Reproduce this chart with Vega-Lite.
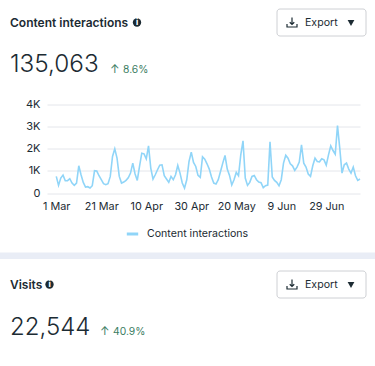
{"$schema":"https://vega.github.io/schema/vega-lite/v6.json","width":313,"height":88.5,"autosize":{"type":"none"},"padding":{"left":47,"top":104.5,"right":15,"bottom":173},"background":"#ffffff","config":{"view":{"stroke":null},"text":{"font":"Inter"}},
"data":{"values":[
{"date":"2023-03-01","value":750},{"date":"2023-03-02","value":345},{"date":"2023-03-03","value":675},{"date":"2023-03-04","value":810},{"date":"2023-03-05","value":555},{"date":"2023-03-06","value":555},{"date":"2023-03-07","value":645},{"date":"2023-03-08","value":450},{"date":"2023-03-09","value":345},{"date":"2023-03-10","value":450},{"date":"2023-03-11","value":1230},{"date":"2023-03-12","value":825},{"date":"2023-03-13","value":480},{"date":"2023-03-14","value":270},{"date":"2023-03-15","value":285},{"date":"2023-03-16","value":225},{"date":"2023-03-17","value":330},{"date":"2023-03-18","value":1005},{"date":"2023-03-19","value":990},{"date":"2023-03-20","value":780},{"date":"2023-03-21","value":600},{"date":"2023-03-22","value":420},{"date":"2023-03-23","value":375},{"date":"2023-03-24","value":420},{"date":"2023-03-25","value":750},{"date":"2023-03-26","value":1650},{"date":"2023-03-27","value":1995},{"date":"2023-03-28","value":1575},{"date":"2023-03-29","value":750},{"date":"2023-03-30","value":450},{"date":"2023-03-31","value":495},
{"date":"2023-04-01","value":570},{"date":"2023-04-02","value":690},{"date":"2023-04-03","value":900},{"date":"2023-04-04","value":1350},{"date":"2023-04-05","value":870},{"date":"2023-04-06","value":570},{"date":"2023-04-07","value":1200},{"date":"2023-04-08","value":1800},{"date":"2023-04-09","value":1770},{"date":"2023-04-10","value":1545},{"date":"2023-04-11","value":2130},{"date":"2023-04-12","value":1125},{"date":"2023-04-13","value":630},{"date":"2023-04-14","value":825},{"date":"2023-04-15","value":1050},{"date":"2023-04-16","value":1260},{"date":"2023-04-17","value":1275},{"date":"2023-04-18","value":780},{"date":"2023-04-19","value":630},{"date":"2023-04-20","value":480},{"date":"2023-04-21","value":750},{"date":"2023-04-22","value":600},{"date":"2023-04-23","value":825},{"date":"2023-04-24","value":1245},{"date":"2023-04-25","value":900},{"date":"2023-04-26","value":450},{"date":"2023-04-27","value":225},{"date":"2023-04-28","value":600},{"date":"2023-04-29","value":1425},{"date":"2023-04-30","value":1845},
{"date":"2023-05-01","value":1380},{"date":"2023-05-02","value":1200},{"date":"2023-05-03","value":795},{"date":"2023-05-04","value":705},{"date":"2023-05-05","value":1635},{"date":"2023-05-06","value":1530},{"date":"2023-05-07","value":1320},{"date":"2023-05-08","value":1080},{"date":"2023-05-09","value":720},{"date":"2023-05-10","value":450},{"date":"2023-05-11","value":405},{"date":"2023-05-12","value":600},{"date":"2023-05-13","value":975},{"date":"2023-05-14","value":1350},{"date":"2023-05-15","value":1695},{"date":"2023-05-16","value":1080},{"date":"2023-05-17","value":795},{"date":"2023-05-18","value":360},{"date":"2023-05-19","value":600},{"date":"2023-05-20","value":930},{"date":"2023-05-21","value":780},{"date":"2023-05-22","value":1725},{"date":"2023-05-23","value":2355},{"date":"2023-05-24","value":675},{"date":"2023-05-25","value":345},{"date":"2023-05-26","value":480},{"date":"2023-05-27","value":750},{"date":"2023-05-28","value":795},{"date":"2023-05-29","value":600},{"date":"2023-05-30","value":495},{"date":"2023-05-31","value":465},
{"date":"2023-06-01","value":240},{"date":"2023-06-02","value":330},{"date":"2023-06-03","value":360},{"date":"2023-06-04","value":2310},{"date":"2023-06-05","value":720},{"date":"2023-06-06","value":570},{"date":"2023-06-07","value":480},{"date":"2023-06-08","value":330},{"date":"2023-06-09","value":600},{"date":"2023-06-10","value":1350},{"date":"2023-06-11","value":1710},{"date":"2023-06-12","value":1575},{"date":"2023-06-13","value":1320},{"date":"2023-06-14","value":1230},{"date":"2023-06-15","value":1020},{"date":"2023-06-16","value":1170},{"date":"2023-06-17","value":1395},{"date":"2023-06-18","value":2175},{"date":"2023-06-19","value":1350},{"date":"2023-06-20","value":1170},{"date":"2023-06-21","value":855},{"date":"2023-06-22","value":750},{"date":"2023-06-23","value":1230},{"date":"2023-06-24","value":1575},{"date":"2023-06-25","value":1425},{"date":"2023-06-26","value":1410},{"date":"2023-06-27","value":1545},{"date":"2023-06-28","value":1500},{"date":"2023-06-29","value":1260},{"date":"2023-06-30","value":1725},
{"date":"2023-07-01","value":2130},{"date":"2023-07-02","value":1920},{"date":"2023-07-03","value":1755},{"date":"2023-07-04","value":3045},{"date":"2023-07-05","value":2025},{"date":"2023-07-06","value":900},{"date":"2023-07-07","value":1275},{"date":"2023-07-08","value":1350},{"date":"2023-07-09","value":1080},{"date":"2023-07-10","value":900},{"date":"2023-07-11","value":1170},{"date":"2023-07-12","value":780},{"date":"2023-07-13","value":570},{"date":"2023-07-14","value":630}
]},
"layer":[
{"mark":{"type":"line","strokeWidth":1.6,"interpolate":"linear"},"encoding":{
"x":{"field":"date","type":"temporal","title":null,"scale":{"type":"utc","domain":["2023-02-24T21:00:00Z","2023-07-14T00:00:00Z"],"nice":false},"axis":{"values":["2023-03-01","2023-03-21","2023-04-10","2023-04-30","2023-05-20","2023-06-09","2023-06-29"],"labelExpr":"utcFormat(datum.value,'%-d %b')","domain":false,"ticks":false,"grid":false,"labelFont":"Inter","labelFontSize":10.8,"labelColor":"#1c2b33","labelPadding":7,"labelFlush":false}},
"y":{"field":"value","type":"quantitative","title":null,"scale":{"domain":[0,4000],"nice":false},"axis":{"values":[0,1000,2000,3000,4000],"labelExpr":"datum.value==0?'0':(datum.value/1000)+'K'","domain":false,"ticks":false,"grid":true,"gridColor":"#e4e6eb","gridWidth":1,"labelFont":"Inter","labelFontSize":11,"labelColor":"#1c2b33","labelPadding":7}},
"color":{"datum":"Content interactions","scale":{"range":["#90d5f8"]},"legend":{"title":null,"orient":"none","legendX":78,"legendY":122,"symbolType":"stroke","symbolStrokeWidth":3,"symbolSize":130,"labelFont":"Inter","labelFontSize":10.6,"labelColor":"#1c2b33","labelOffset":7}}}},
{"data":{"values":[{}]},"mark":{"type":"rect","fill":"#e9edf6"},"encoding":{"x":{"value":-47},"x2":{"value":328},"y":{"value":148},"y2":{"value":154.5}}},
{"data":{"values":[{}]},"mark":{"type":"rect","fill":"#ffffff","stroke":"#ced0d4","strokeWidth":1,"cornerRadius":3},"encoding":{"x":{"value":230},"x2":{"value":319},"y":{"value":-95.5},"y2":{"value":-68.5}}},
{"data":{"values":[{}]},"mark":{"type":"rect","fill":"#ffffff","stroke":"#ced0d4","strokeWidth":1,"cornerRadius":3},"encoding":{"x":{"value":230},"x2":{"value":319},"y":{"value":166.5},"y2":{"value":193.5}}},
{"data":{"values":[{}]},"mark":{"type":"text","text":"Content interactions","x":-37,"y":-81.5,"align":"left","baseline":"middle","fontSize":12,"fontWeight":600,"color":"#1c2b33"}},
{"data":{"values":[{}]},"mark":{"type":"text","text":"Visits","x":-37,"y":180.5,"align":"left","baseline":"middle","fontSize":12,"fontWeight":600,"color":"#1c2b33"}},
{"data":{"values":[{}]},"mark":{"type":"point","shape":"circle","filled":true,"size":70,"color":"#1c2b33","opacity":1,"x":90,"y":-82}},
{"data":{"values":[{}]},"mark":{"type":"point","shape":"circle","filled":true,"size":70,"color":"#1c2b33","opacity":1,"x":2.5,"y":180}},
{"data":{"values":[{}]},"mark":{"type":"text","text":"i","x":90,"y":-81.5,"align":"center","baseline":"middle","fontSize":8,"fontWeight":800,"color":"#ffffff"}},
{"data":{"values":[{}]},"mark":{"type":"text","text":"i","x":2.5,"y":180.5,"align":"center","baseline":"middle","fontSize":8,"fontWeight":800,"color":"#ffffff"}},
{"data":{"values":[{}]},"mark":{"type":"text","text":"Export","x":258,"y":-81.5,"align":"left","baseline":"middle","fontSize":10.6,"color":"#1c2b33"}},
{"data":{"values":[{}]},"mark":{"type":"text","text":"Export","x":258,"y":180.5,"align":"left","baseline":"middle","fontSize":10.6,"color":"#1c2b33"}},
{"data":{"values":[{}]},"mark":{"type":"point","shape":"M0,-1L0,0.35M-0.45,-0.05L0,0.4L0.45,-0.05M-1,0.3L-1,0.9L1,0.9L1,0.3","filled":false,"size":100,"stroke":"#1c2b33","strokeWidth":1.2,"opacity":1,"x":245,"y":-82}},
{"data":{"values":[{}]},"mark":{"type":"point","shape":"M0,-1L0,0.35M-0.45,-0.05L0,0.4L0.45,-0.05M-1,0.3L-1,0.9L1,0.9L1,0.3","filled":false,"size":100,"stroke":"#1c2b33","strokeWidth":1.2,"opacity":1,"x":245,"y":180}},
{"data":{"values":[{}]},"mark":{"type":"point","shape":"triangle-down","filled":true,"size":45,"color":"#1c2b33","opacity":1,"x":304,"y":-81.5}},
{"data":{"values":[{}]},"mark":{"type":"point","shape":"triangle-down","filled":true,"size":45,"color":"#1c2b33","opacity":1,"x":304,"y":180.5}},
{"data":{"values":[{}]},"mark":{"type":"text","text":"135,063","x":-37,"y":-39.5,"align":"left","baseline":"middle","fontSize":24.3,"fontWeight":300,"color":"#1c2b33"}},
{"data":{"values":[{}]},"mark":{"type":"text","text":"22,544","x":-37,"y":223.5,"align":"left","baseline":"middle","fontSize":24,"fontWeight":300,"color":"#1c2b33"}},
{"data":{"values":[{}]},"mark":{"type":"text","text":"↑","x":63,"y":-35,"align":"left","baseline":"middle","fontSize":11.5,"color":"#3a7d62"}},
{"data":{"values":[{}]},"mark":{"type":"text","text":"8.6%","x":76,"y":-35,"align":"left","baseline":"middle","fontSize":10.3,"color":"#3a7d62"}},
{"data":{"values":[{}]},"mark":{"type":"text","text":"↑","x":53,"y":227,"align":"left","baseline":"middle","fontSize":11.5,"color":"#3a7d62"}},
{"data":{"values":[{}]},"mark":{"type":"text","text":"40.9%","x":66,"y":227,"align":"left","baseline":"middle","fontSize":10.3,"color":"#3a7d62"}}
]}
